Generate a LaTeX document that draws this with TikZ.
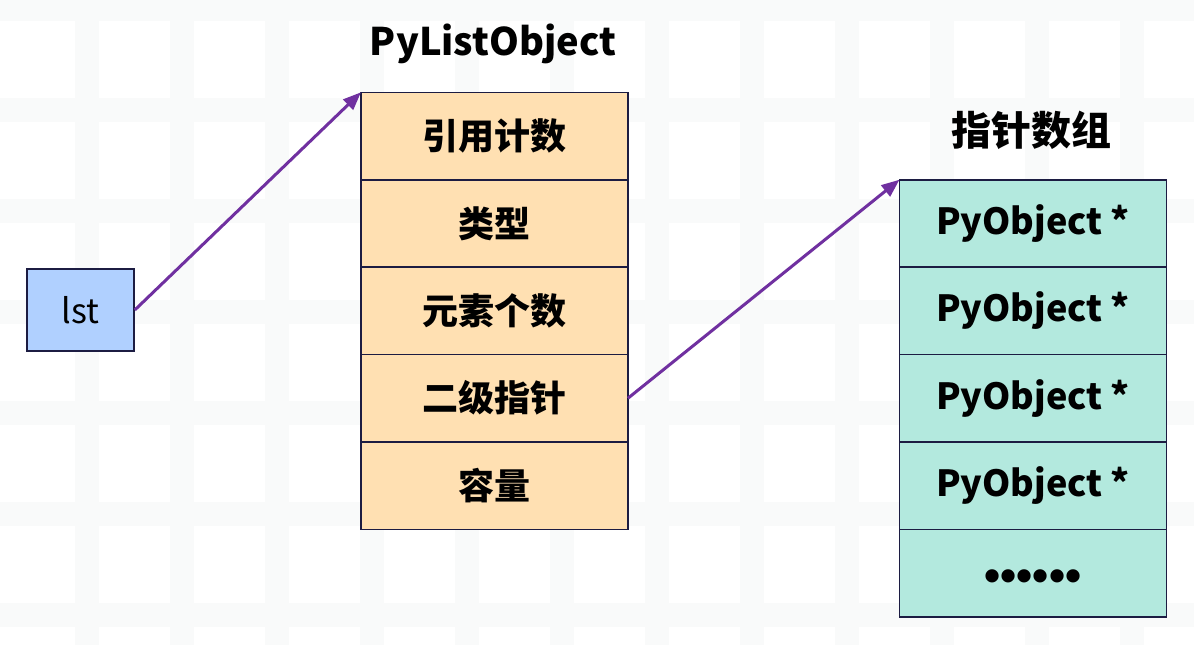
\documentclass[tikz,border=0pt]{standalone}
\usepackage{fontspec}
\setmainfont{Noto Sans CJK SC}
\newfontfamily\dotfont{Liberation Sans}
\usetikzlibrary{arrows.meta,positioning}
\definecolor{cellpeach}{RGB}{255,224,178}
\definecolor{cellmint}{RGB}{179,233,222}
\definecolor{cellblue}{RGB}{176,208,255}
\definecolor{edgenavy}{RGB}{28,28,66}
\definecolor{ptrpurple}{RGB}{112,48,160}
\definecolor{gridgray}{RGB}{249,250,250}

\begin{document}
\begin{tikzpicture}[x=1pt,y=-1pt,
    cell/.style={draw=edgenavy,line width=1.6pt,minimum width=267pt,minimum height=87.4pt,
      inner sep=0pt,outer sep=0pt,font=\fontsize{36}{40}\selectfont\bfseries},
    ptr/.style={-{Triangle[length=18pt,width=14pt]},ptrpurple,line width=3pt}]
      \useasboundingbox (0,0) rectangle (1194,645);
      \fill[white] (0,0) rectangle (1194,645);
      % faint background grid
      \foreach \gx in {87,182,...,1194}
        \draw[gridgray,line width=24pt] (\gx,0) -- (\gx,645);
      \foreach \gy in {9,110,...,645}
        \draw[gridgray,line width=24pt] (0,\gy) -- (1194,\gy);

      \node[draw=edgenavy,fill=cellblue,line width=1.6pt,minimum width=107pt,minimum height=82pt,
        font=\fontsize{34}{38}\selectfont] (lst) at (80.5,310) {lst};

      \node[font=\fontsize{38}{42}\selectfont\bfseries] (listtitle) at (493,44) {PyListObject};
      \foreach \txt [count=\i] in {引用计数,类型,元素个数,二级指针,容量}
        \node[cell,fill=cellpeach] (p\i) at (494.5,48.6+87.4*\i) {\txt};

      \node[font=\fontsize{40}{44}\selectfont\bfseries] (arrtitle) at (1031,130) {指针数组};
      \foreach \txt [count=\i] in {PyObject *,PyObject *,PyObject *,PyObject *}
        \node[cell,fill=cellmint] (a\i) at (1033,136+87.4*\i) {\txt};
      \node[cell,fill=cellmint] (a5) at (1033,573) {};
      \node[font=\fontsize{46}{48}\selectfont\dotfont\bfseries,yshift=-8pt] (dots) at (a5.center) {••••••};

      \draw[ptr] (lst.east) -- (p1.north west);
      \draw[ptr] (p4.east) -- (a1.north west);
    \end{tikzpicture}
\end{document}
